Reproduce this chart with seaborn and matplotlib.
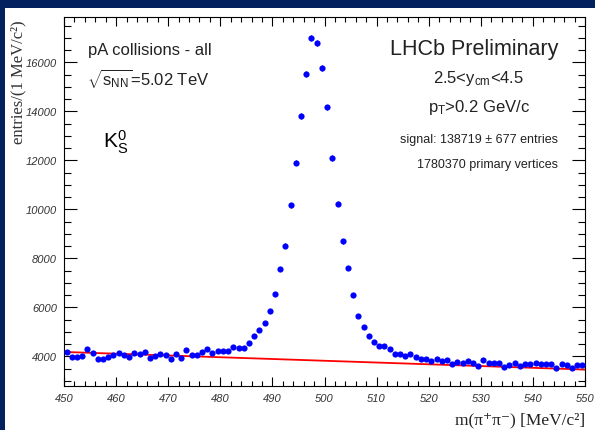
import numpy as np
import pandas as pd
import matplotlib
matplotlib.use("Agg")
import matplotlib.pyplot as plt
from matplotlib.ticker import MultipleLocator
from matplotlib.patches import Rectangle
import seaborn as sns

# pi+ pi- invariant mass histogram, 1 MeV/c^2 bins from 450 to 550
bin_low = 450.0
bin_width = 1.0
counts = [
    4176, 3973, 3973, 4014, 4286, 4122, 3905, 3878, 3973, 4068,
    4122, 4068, 3973, 4150, 4095, 4176, 3946, 4014, 4082, 4041,
    3905, 4082, 3932, 4245, 4041, 4041, 4190, 4286, 4150, 4218,
    4218, 4218, 4381, 4340, 4340, 4558, 4829, 5061, 5374, 5849,
    6558, 7562, 8516, 10173, 11903, 13821, 15534, 16987, 16783, 15779,
    14159, 12091, 10230, 8692, 7619, 6489, 5644, 5210, 4829, 4598,
    4420, 4420, 4313, 4082, 4082, 4014, 4082, 3959, 3905, 3878,
    3823, 3905, 3810, 3837, 3674, 3769, 3743, 3810, 3714, 3604,
    3837, 3714, 3743, 3743, 3563, 3645, 3743, 3604, 3700, 3674,
    3714, 3674, 3700, 3700, 3538, 3700, 3645, 3510, 3645, 3645,
]

# linear background from the fit: value at 450 MeV/c^2 and slope per MeV/c^2
bkg_p0 = 4180.0
bkg_p1 = -7.2

x_ticks = [450, 460, 470, 480, 490, 500, 510, 520, 530, 540, 550]
y_ticks = [4000, 6000, 8000, 10000, 12000, 14000, 16000]
x_range = (450, 550)
y_range = (2790, 17850)

mass = bin_low + bin_width * (np.arange(len(counts)) + 0.5)
df = pd.DataFrame({"mass": mass, "entries": np.array(counts, dtype=float)})
df["err"] = np.sqrt(df["entries"])

grid = np.linspace(x_range[0], x_range[1], 200)
bkg = pd.DataFrame({"mass": grid, "bkg": bkg_p0 + bkg_p1 * (grid - x_range[0])})

sns.set_theme(style="ticks")
plt.rcParams["font.family"] = ["Liberation Sans", "DejaVu Sans"]
plt.rcParams["mathtext.fontset"] = "custom"
plt.rcParams["mathtext.rm"] = "Liberation Sans"
plt.rcParams["mathtext.it"] = "Liberation Sans:italic"
plt.rcParams["mathtext.bf"] = "Liberation Sans:bold"

W, H = 595, 431
fig = plt.figure(figsize=(W / 100, H / 100), dpi=100, facecolor="white")

# slide frame bands
navy = "#03215e"
fig.patches.append(Rectangle((0, 1 - 9 / H), 1, 9 / H, transform=fig.transFigure,
                             facecolor=navy, edgecolor="none", zorder=0))
fig.patches.append(Rectangle((0, 0), 5 / W, 1, transform=fig.transFigure,
                             facecolor=navy, edgecolor="none", zorder=0))

L, R, T, B = 64, 585, 18, 387
ax = fig.add_axes([L / W, 1 - B / H, (R - L) / W, (B - T) / H])
ax.set_facecolor("white")

sns.lineplot(data=bkg, x="mass", y="bkg", ax=ax, color="#ff0000", linewidth=1.3,
             zorder=2)
ax.errorbar(df["mass"], df["entries"], yerr=df["err"], fmt="none",
            ecolor="#0000ff", elinewidth=0.8, capsize=0, zorder=3)
sns.scatterplot(data=df, x="mass", y="entries", ax=ax, color="#0000ff", s=20,
                linewidth=0, zorder=4)

ax.set_xlim(*x_range)
ax.set_ylim(*y_range)
ax.set_xticks(x_ticks)
ax.set_yticks(y_ticks)
ax.xaxis.set_minor_locator(MultipleLocator(2))
ax.yaxis.set_minor_locator(MultipleLocator(500))
ax.set_xlabel("")
ax.set_ylabel("")

for s in ax.spines.values():
    s.set_linewidth(0.8)
    s.set_color("black")

ax.tick_params(axis="both", which="both", direction="in", top=True, right=True,
               width=0.8, color="black")
ax.tick_params(axis="x", which="major", length=6.8, pad=5)
ax.tick_params(axis="x", which="minor", length=3.6)
ax.tick_params(axis="y", which="major", length=9.4, pad=5)
ax.tick_params(axis="y", which="minor", length=5.0)
for lab in ax.get_xticklabels() + ax.get_yticklabels():
    lab.set_fontstyle("italic")
    lab.set_fontsize(8)
    lab.set_color("#333333")

def px(x, y):
    return x / W, 1 - y / H

dark = "#222222"
fig.text(*px(88, 55), "pA collisions - all", ha="left", va="baseline",
         fontsize=12, color=dark)
fig.text(*px(87, 85), r"$\sqrt{\mathrm{s}_{\mathrm{NN}}}$=5.02 TeV", ha="left",
         va="baseline", fontsize=12, color=dark)
fig.text(*px(103, 148), r"K$^{0}_{\mathrm{S}}$", ha="left", va="baseline",
         fontsize=15, color="black")

fig.text(*px(558, 55), "LHCb Preliminary", ha="right", va="baseline",
         fontsize=15.5, color=dark)
fig.text(*px(479, 83), r"2.5<y$_{\mathrm{cm}}$<4.5", ha="center", va="baseline",
         fontsize=12, color=dark)
fig.text(*px(479, 112), r"p$_{\mathrm{T}}$>0.2 GeV/c", ha="center", va="baseline",
         fontsize=12, color=dark)
fig.text(*px(558, 143), "signal: 138719 \u00b1 677 entries", ha="right",
         va="baseline", fontsize=9, color=dark)
fig.text(*px(558, 168), "1780370 primary vertices", ha="right", va="baseline",
         fontsize=9, color=dark)

serif = ["Liberation Serif", "DejaVu Serif"]
fig.text(*px(585, 424), "m(\u03c0\u207a\u03c0\u207b) [MeV/c\u00b2]", ha="right",
         va="baseline", fontsize=12.5, color=dark, family=serif)
fig.text(*px(18, 20), "entries/(1 MeV/c\u00b2)", ha="center", va="top",
         rotation=90, fontsize=12, color="#333333", family=serif, zorder=5)

fig.savefig("out.png", dpi=100, facecolor="white")
